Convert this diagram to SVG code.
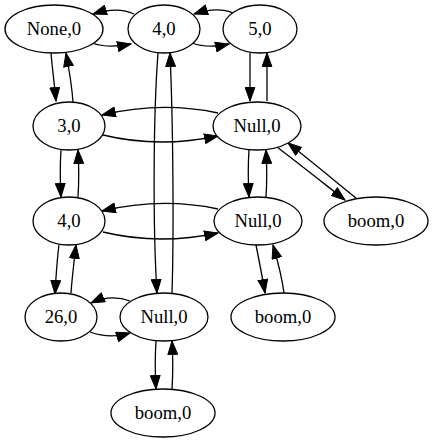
<svg xmlns="http://www.w3.org/2000/svg" width="433" height="443" viewBox="0 0 433 443">
  <style>
    .node ellipse { fill: #ffffff; stroke: #000000; stroke-width: 1.3; }
    .node text { font-size: 18.67px; text-anchor: middle; fill: #000000; }
    .edges path { fill: none; stroke: #000000; stroke-width: 1.3; marker-end: url(#arrow); }
  </style>
  <defs>
    <marker id="arrow" markerUnits="userSpaceOnUse" markerWidth="15" markerHeight="11" viewBox="0 0 15 11" refX="14" refY="5.5" orient="auto">
      <polygon points="0.5,0.6 14,5.5 0.5,10.4" fill="#000000" stroke="#000000" stroke-width="1"/>
    </marker>
  </defs>
  <rect width="433" height="443" fill="#ffffff"/>

  <g class="edges">
    <!-- top row -->
    <path d="M134,14 C124,9 112,8 93,14"/>
    <path d="M92,43 C103,47 116,47 131,44"/>
    <path d="M233,13 C224,9 212,8 194,14"/>
    <path d="M192,43 C203,47 216,47 229,44"/>
    <!-- None,0 / 3,0 -->
    <path d="M51,53 C52,66 54,80 56,101"/>
    <path d="M73,102 C72,88 70,74 66,53"/>
    <!-- long verticals between 4,0 and lower Null,0 -->
    <path d="M158,53 C153,120 153,230 157,293"/>
    <path d="M172,293 C174,230 173,120 170,53"/>
    <!-- 5,0 / Null,0 -->
    <path d="M250,53 L250,101"/>
    <path d="M267,101 L267,53"/>
    <!-- 3,0 / Null,0 -->
    <path d="M218,113 C180,105 140,106 102,115"/>
    <path d="M103,135 C140,144 180,144 218,136"/>
    <!-- 3,0 / 4,0 -->
    <path d="M61,150 C60,165 60,180 61,197"/>
    <path d="M78,197 C79,182 79,167 78,150"/>
    <!-- Null,0 / boom,0 (right) -->
    <path d="M277,147 C298,163 322,182 345,200"/>
    <path d="M356,198 C335,181 311,161 288,143"/>
    <!-- Null,0 / Null,0 -->
    <path d="M249,150 C248,165 248,180 249,197"/>
    <path d="M266,197 C267,182 267,167 266,150"/>
    <!-- 4,0 / Null,0 (middle row) -->
    <path d="M218,209 C180,201 140,202 102,211"/>
    <path d="M103,232 C140,241 180,241 218,233"/>
    <!-- 4,0 / 26,0 -->
    <path d="M59,245 C57,260 56,276 55,294"/>
    <path d="M71,293 C72,278 74,262 76,245"/>
    <!-- Null,0 / boom,0 (middle) -->
    <path d="M256,245 C259,260 262,275 265,293"/>
    <path d="M284,293 C282,278 278,262 273,245"/>
    <!-- 26,0 / Null,0 (bottom row) -->
    <path d="M130,301 C117,296 104,297 91,303"/>
    <path d="M90,332 C104,337 117,337 130,333"/>
    <!-- Null,0 / boom,0 (bottom) -->
    <path d="M156,341 C155,356 155,372 156,389"/>
    <path d="M172,389 C173,374 173,358 172,341"/>
  </g>

  <g font-family="Liberation Serif, Times New Roman, serif">
    <g id="n_none" class="node"><ellipse cx="54" cy="29" rx="49" ry="24"/><text x="54" y="35">None,0</text></g>
    <g id="n_4_top" class="node"><ellipse cx="164" cy="29" rx="36" ry="24"/><text x="164" y="35">4,0</text></g>
    <g id="n_5" class="node"><ellipse cx="260" cy="29" rx="37" ry="24"/><text x="260" y="35">5,0</text></g>
    <g id="n_3" class="node"><ellipse cx="69" cy="126" rx="36" ry="24"/><text x="69" y="132">3,0</text></g>
    <g id="n_null_top" class="node"><ellipse cx="257" cy="126" rx="44" ry="24"/><text x="257" y="132">Null,0</text></g>
    <g id="n_4_mid" class="node"><ellipse cx="69" cy="221" rx="36" ry="24"/><text x="69" y="227">4,0</text></g>
    <g id="n_null_mid" class="node"><ellipse cx="258" cy="221" rx="44" ry="24"/><text x="258" y="227">Null,0</text></g>
    <g id="n_boom_right" class="node"><ellipse cx="376" cy="221" rx="52" ry="24"/><text x="376" y="227">boom,0</text></g>
    <g id="n_26" class="node"><ellipse cx="61" cy="317" rx="36" ry="24"/><text x="61" y="323">26,0</text></g>
    <g id="n_null_bottom" class="node"><ellipse cx="164" cy="317" rx="44" ry="24"/><text x="164" y="323">Null,0</text></g>
    <g id="n_boom_mid" class="node"><ellipse cx="283" cy="317" rx="52" ry="24"/><text x="283" y="323">boom,0</text></g>
    <g id="n_boom_bottom" class="node"><ellipse cx="163" cy="413" rx="52" ry="24"/><text x="163" y="419">boom,0</text></g>
  </g>
</svg>
